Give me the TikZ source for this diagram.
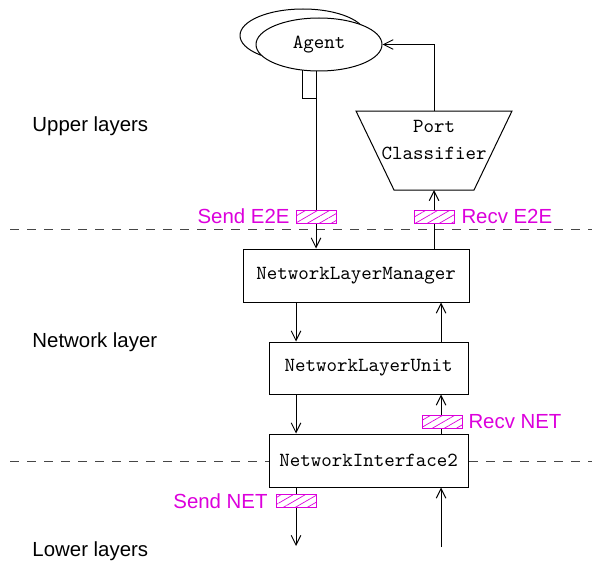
\documentclass[tikz,border=0pt]{standalone}
\usepackage{fontspec}
\setsansfont{Liberation Sans}
\usetikzlibrary{shapes.geometric,arrows.meta,patterns.meta}
\definecolor{lblmag}{RGB}{220,0,220}
\definecolor{dashgray}{RGB}{70,70,70}
\begin{document}
\begin{tikzpicture}[x=0.5pt,y=-0.5pt,
  line width=0.5pt,
  arr/.style={-{Straight Barb[length=4.8pt,width=4.8pt,line width=0.5pt]}},
  compbox/.style={draw,fill=white,font=\ttfamily\fontsize{10}{12}\selectfont,inner sep=0pt},
  agentell/.style={draw,fill=white,ellipse,minimum width=63pt,minimum height=26.5pt,inner sep=0pt,font=\ttfamily\fontsize{10}{12}\selectfont},
  hatchbox/.style={draw=lblmag,line width=0.5pt,minimum width=20pt,minimum height=6.5pt,inner sep=0pt,
    fill=white,postaction={pattern={Lines[angle=30,distance=3pt,line width=0.35pt]},pattern color=lblmag}},
  maglbl/.style={text=lblmag,font=\sffamily\fontsize{10.2}{12}\selectfont,inner sep=0pt},
  layerlbl/.style={font=\sffamily\fontsize{10.2}{12}\selectfont,inner sep=0pt,anchor=west},
  sep/.style={draw=dashgray,dash pattern=on 4.5pt off 4pt,line width=0.5pt}]
\useasboundingbox (0,0) rectangle (592,567);
% layer separators
\draw[sep] (10,229) -- (592,229);
\draw[sep] (10,461) -- (592,461);
% layer labels
\node[layerlbl] (up) at (32,126) {Upper layers};
\node[layerlbl] (nl) at (32,342) {Network layer};
\node[layerlbl] (lo) at (32,551) {Lower layers};
% agent
\node[agentell] (agentback) at (303,35.5) {};
\node[agentell] (agent) at (319,44.5) {Agent};
% port classifier
\draw[fill=white] (356,111) -- (512,111) -- (474,190) -- (394,190) -- cycle;
\node[font=\ttfamily\fontsize{10}{13.5}\selectfont,align=center,inner sep=0pt] (pc) at (434,140) {Port\\Classifier};
\coordinate (pcT) at (434,111);
\coordinate (pcB) at (434,190);
% component boxes
\node[compbox,minimum width=113pt,minimum height=26.5pt] (nlm) at (356,275.5) {NetworkLayerManager};
\node[compbox,minimum width=99.5pt,minimum height=26pt] (nlu) at (368.5,368) {NetworkLayerUnit};
\node[compbox,minimum width=99.5pt,minimum height=26.5pt] (ni) at (368.5,460.5) {NetworkInterface2};
% x positions of the flows
\coordinate (Ldown) at (316,0);
\coordinate (Rup) at (434,0);
\coordinate (Ld) at (296,0);
\coordinate (Ru) at (441,0);
\coordinate (botL) at (296,546);
\coordinate (botR) at (441,547);
% agent down to manager
\draw (302,70) |- (316,98);
\draw[arr] (316,71) -- (nlm.north -| Ldown);
% manager up to classifier, classifier to agent
\draw[arr] (nlm.north -| Rup) -- (pcB);
\draw[arr] (pcT) |- (agent.east);
% manager <-> unit
\draw[arr] (nlm.south -| Ld) -- (nlu.north -| Ld);
\draw[arr] (nlu.north -| Ru) -- (nlm.south -| Ru);
% unit <-> interface
\draw[arr] (nlu.south -| Ld) -- (ni.north -| Ld);
\draw[arr] (ni.north -| Ru) -- (nlu.south -| Ru);
% interface <-> lower
\draw[arr] (ni.south -| Ld) -- (botL);
\draw[arr] (botR) -- (ni.south -| Ru);
% hatched boxes and labels
\node[hatchbox] (se2e) at (316,216.5) {};
\node[maglbl,anchor=east] (se2et) at (290,216.5) {Send E2E};
\node[hatchbox] (re2e) at (434,216.5) {};
\node[maglbl,anchor=west] (re2et) at (461,216.5) {Recv E2E};
\node[hatchbox] (rnet) at (442,421.5) {};
\node[maglbl,anchor=west] (rnett) at (468,421.5) {Recv NET};
\node[hatchbox] (snet) at (296,501) {};
\node[maglbl,anchor=east] (snett) at (268,501) {Send NET};
\end{tikzpicture}
\end{document}
